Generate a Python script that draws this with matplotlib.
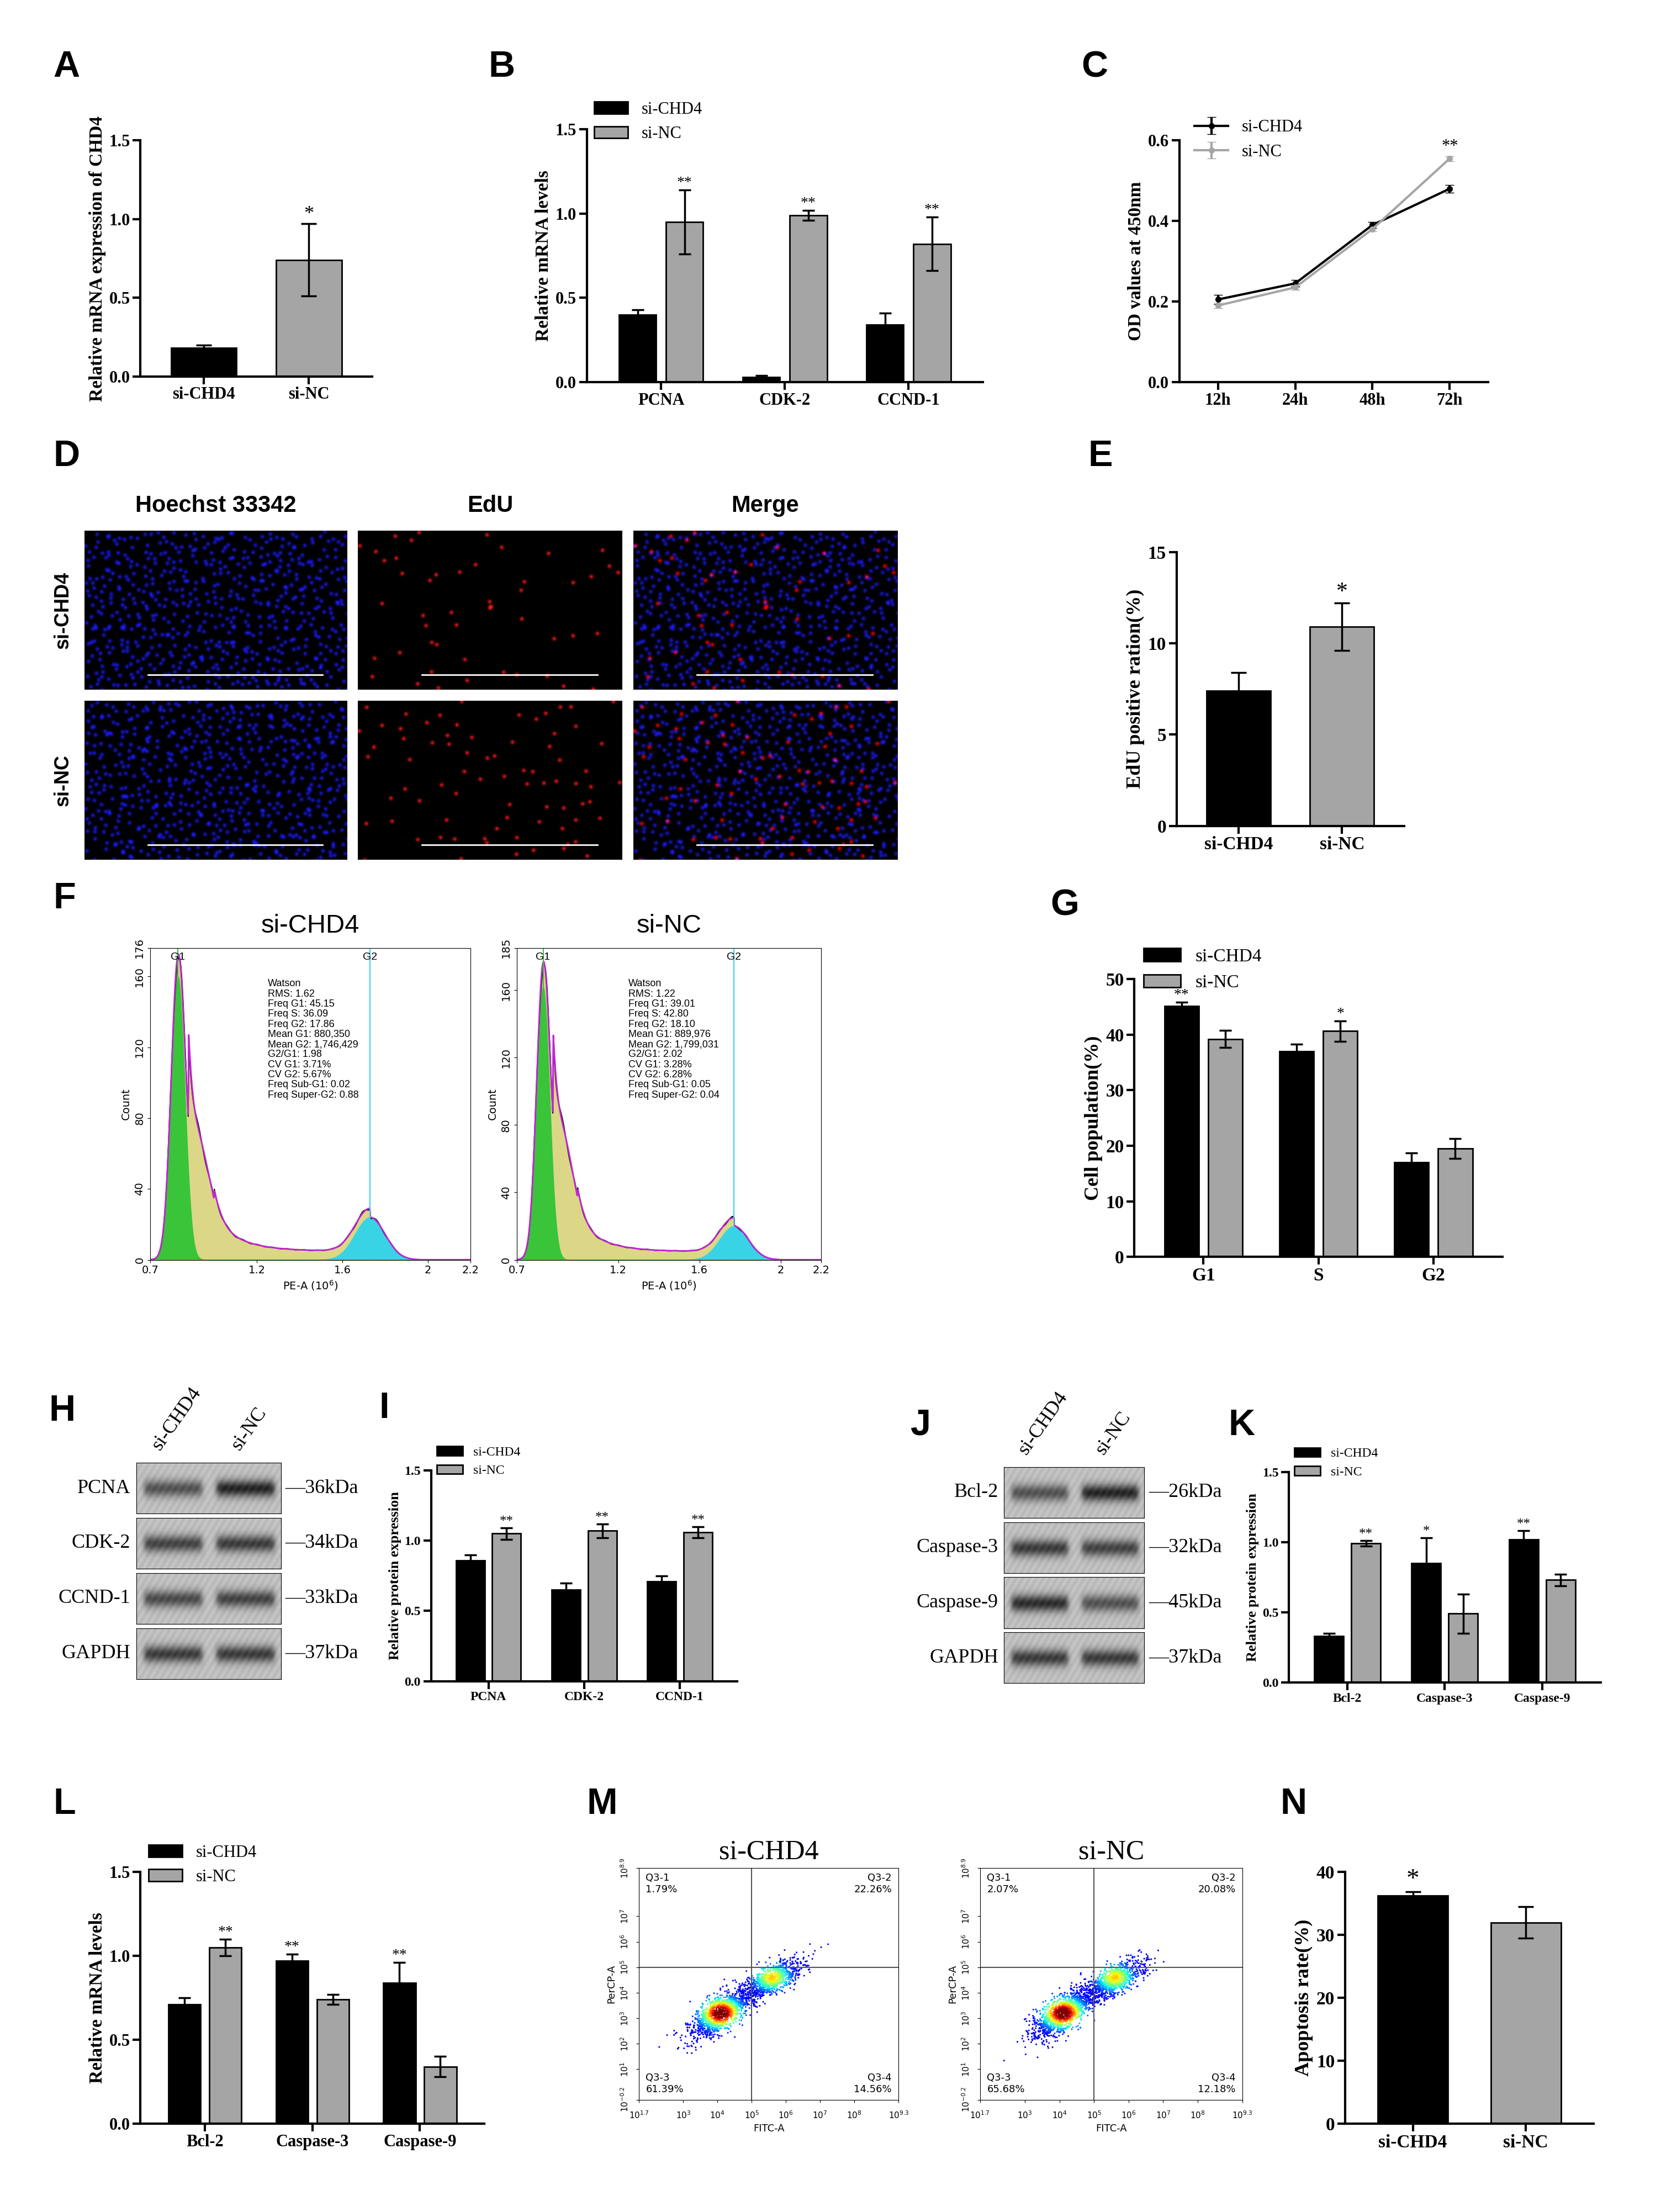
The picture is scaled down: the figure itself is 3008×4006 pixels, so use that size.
import numpy as np
import matplotlib
matplotlib.use("Agg")
import matplotlib.pyplot as plt

W, H = 1183.0, 1575.0
fig = plt.figure(figsize=(30.08, 40.06), dpi=100)
SERIF = "Liberation Serif"
SANS = "Liberation Sans"
BLACK, GRAY = "#000000", "#a5a5a5"

def axp(x0, y0, x1, y1):
    return fig.add_axes([x0 / W, 1 - y1 / H, (x1 - x0) / W, (y1 - y0) / H])

def letter(x, y, s):
    fig.text(x / W, 1 - y / H, s, fontsize=48, fontweight="bold", family=SANS, va="center", ha="left")

def style(ax, fs=22):
    for s in ["top", "right"]:
        ax.spines[s].set_visible(False)
    for s in ["left", "bottom"]:
        ax.spines[s].set_linewidth(3)
    ax.tick_params(width=3, length=10, labelsize=fs)
    for t in ax.get_xticklabels() + ax.get_yticklabels():
        t.set_family(SERIF); t.set_fontweight("bold")

def grouped(ax, cats, a, ae, b, be, sa, sb, ylim, yticks, ylabel, fs=22, legend=True, stfs=20):
    x = np.arange(len(cats))
    w = 0.3
    ax.bar(x - 0.19, a, w, yerr=ae, color=BLACK, edgecolor="black", lw=2, capsize=8,
           error_kw=dict(elinewidth=2.5, capthick=2.5), label="si-CHD4")
    ax.bar(x + 0.19, b, w, yerr=be, color=GRAY, edgecolor="black", lw=2, capsize=8,
           error_kw=dict(elinewidth=2.5, capthick=2.5), label="si-NC")
    for i in range(len(cats)):
        if sa[i]:
            ax.text(x[i] - 0.19, a[i] + ae[i], sa[i], ha="center", va="bottom", fontsize=stfs, family=SERIF)
        if sb[i]:
            ax.text(x[i] + 0.19, b[i] + be[i], sb[i], ha="center", va="bottom", fontsize=stfs, family=SERIF)
    ax.set_xticks(x); ax.set_xticklabels(cats)
    ax.set_ylim(*ylim); ax.set_yticks(yticks)
    ax.set_xlim(-0.6, len(cats) - 0.4)
    ax.set_ylabel(ylabel, fontsize=fs + 2, family=SERIF, fontweight="bold")
    if legend:
        ax.legend(loc="upper left", bbox_to_anchor=(-0.02, 1.17), frameon=False, prop={"family": SERIF, "size": fs})
    style(ax, fs)

# ---------------- data ----------------
A_cats = ["si-CHD4", "si-NC"]; A_vals = [0.18, 0.74]; A_err = [0.02, 0.23]
B_cats = ["PCNA", "CDK-2", "CCND-1"]
B_chd4 = [0.40, 0.03, 0.34]; B_chd4_err = [0.03, 0.01, 0.07]
B_nc = [0.95, 0.99, 0.82]; B_nc_err = [0.19, 0.03, 0.16]
C_times = ["12h", "24h", "48h", "72h"]
C_chd4 = [0.205, 0.245, 0.39, 0.48]; C_chd4_err = [0.012, 0.008, 0.008, 0.01]
C_nc = [0.19, 0.235, 0.38, 0.555]; C_nc_err = [0.006, 0.006, 0.006, 0.006]
E_vals = [7.4, 10.9]; E_err = [1.0, 1.3]
G_cats = ["G1", "S", "G2"]
G_chd4 = [45.1, 37.0, 17.0]; G_chd4_err = [0.7, 1.3, 1.7]
G_nc = [39.2, 40.6, 19.5]; G_nc_err = [1.5, 1.8, 1.8]
I_cats = ["PCNA", "CDK-2", "CCND-1"]
I_chd4 = [0.86, 0.65, 0.71]; I_chd4_err = [0.04, 0.05, 0.04]
I_nc = [1.05, 1.07, 1.06]; I_nc_err = [0.04, 0.05, 0.04]
K_cats = ["Bcl-2", "Caspase-3", "Caspase-9"]
K_chd4 = [0.33, 0.85, 1.02]; K_chd4_err = [0.02, 0.18, 0.06]
K_nc = [0.99, 0.49, 0.73]; K_nc_err = [0.02, 0.14, 0.04]
L_cats = ["Bcl-2", "Caspase-3", "Caspase-9"]
L_chd4 = [0.71, 0.97, 0.84]; L_chd4_err = [0.04, 0.04, 0.12]
L_nc = [1.05, 0.74, 0.34]; L_nc_err = [0.05, 0.03, 0.06]
N_vals = [36.3, 32.0]; N_err = [0.6, 2.5]
F_stats = [["Watson", "RMS: 1.62", "Freq G1: 45.15", "Freq S: 36.09", "Freq G2: 17.86", "Mean G1: 880,350",
            "Mean G2: 1,746,429", "G2/G1: 1.98", "CV G1: 3.71%", "CV G2: 5.67%", "Freq Sub-G1: 0.02", "Freq Super-G2: 0.88"],
           ["Watson", "RMS: 1.22", "Freq G1: 39.01", "Freq S: 42.80", "Freq G2: 18.10", "Mean G1: 889,976",
            "Mean G2: 1,799,031", "G2/G1: 2.02", "CV G1: 3.28%", "CV G2: 6.28%", "Freq Sub-G1: 0.05", "Freq Super-G2: 0.04"]]
M_quads = [["1.79%", "22.26%", "61.39%", "14.56%"], ["2.07%", "20.08%", "65.68%", "12.18%"]]

# ---------------- A ----------------
letter(38, 48, "A")
ax = axp(100, 100, 265, 268)
ax.bar([0, 1], A_vals, 0.62, yerr=A_err, color=[BLACK, GRAY], edgecolor="black", lw=2, capsize=10,
       error_kw=dict(elinewidth=2.5, capthick=2.5))
ax.text(1, A_vals[1] + A_err[1], "*", ha="center", va="bottom", fontsize=26, family=SERIF)
ax.set_xticks([0, 1]); ax.set_xticklabels(A_cats); ax.set_xlim(-0.6, 1.6)
ax.set_ylim(0, 1.5); ax.set_yticks([0, 0.5, 1.0, 1.5])
ax.set_ylabel("Relative mRNA expression of CHD4", fontsize=24, family=SERIF, fontweight="bold")
style(ax)

# ---------------- B ----------------
letter(348, 48, "B")
ax = axp(418, 92, 700, 272)
grouped(ax, B_cats, B_chd4, B_chd4_err, B_nc, B_nc_err, ["", "", ""], ["**", "**", "**"],
        (0, 1.5), [0, 0.5, 1.0, 1.5], "Relative mRNA levels")

# ---------------- C ----------------
letter(770, 48, "C")
ax = axp(840, 100, 1060, 272)
xs = np.arange(4)
ax.errorbar(xs, C_chd4, yerr=C_chd4_err, color="black", marker="o", ms=7, lw=3, capsize=6, label="si-CHD4")
ax.errorbar(xs, C_nc, yerr=C_nc_err, color="#a5a5a5", marker="o", ms=7, lw=3, capsize=6, label="si-NC")
ax.text(3, 0.565, "**", ha="center", va="bottom", fontsize=22, family=SERIF)
ax.set_xticks(xs); ax.set_xticklabels(C_times); ax.set_xlim(-0.5, 3.5)
ax.set_ylim(0, 0.6); ax.set_yticks([0, 0.2, 0.4, 0.6])
ax.set_ylabel("OD values at 450nm", fontsize=24, family=SERIF, fontweight="bold")
ax.legend(loc="upper left", bbox_to_anchor=(0.0, 1.15), frameon=False, prop={"family": SERIF, "size": 22})
style(ax)

# ---------------- D ----------------
letter(38, 325, "D")
cols = [(60, 247), (255, 443), (451, 639)]
rows = [(378, 491), (499, 612)]
for j, t in enumerate(["Hoechst 33342", "EdU", "Merge"]):
    fig.text((cols[j][0] + cols[j][1]) / 2 / W, 1 - 360 / H, t, ha="center", va="center",
             fontsize=30, fontweight="bold", family=SANS)
for i, t in enumerate(["si-CHD4", "si-NC"]):
    fig.text(45 / W, 1 - (rows[i][0] + rows[i][1]) / 2 / H, t, ha="center", va="center", rotation=90,
             fontsize=26, fontweight="bold", family=SANS)
gy, gx = np.mgrid[0:113, 0:188]
def dots(nx, ny, phase, keep_frac):
    img = np.zeros((113, 188))
    k = 0
    for a in range(nx):
        for b in range(ny):
            k += 1
            h = (np.sin(k * 12.9898 + phase) * 43758.5453) % 1.0
            h2 = (np.sin(k * 78.233 + phase) * 12345.678) % 1.0
            h3 = (np.sin(k * 39.425 + phase) * 9876.54) % 1.0
            if h3 > keep_frac:
                continue
            cx = (a + h) * 188 / nx; cy = (b + h2) * 113 / ny
            img += np.exp(-((gx - cx) ** 2 + (gy - cy) ** 2) / 1.6)
    return np.clip(img, 0, 1)
for i in range(2):
    blue = dots(34, 20, i * 1.7, 0.9)
    red = dots(14, 9, i * 3.1 + 0.5, 0.35 if i == 0 else 0.6)
    imgs = [np.dstack([blue * 0.1, blue * 0.1, blue * 0.95]),
            np.dstack([red, red * 0.1, red * 0.1]),
            np.dstack([np.clip(red + blue * 0.1, 0, 1), blue * 0.1, np.clip(blue * 0.9, 0, 1)])]
    for j in range(3):
        a = axp(cols[j][0], rows[i][0], cols[j][1], rows[i][1])
        a.imshow(imgs[j], aspect="auto", interpolation="bilinear")
        a.plot([45, 170], [102, 102], color="white", lw=2)
        a.axis("off")

# ---------------- E ----------------
letter(775, 325, "E")
ax = axp(838, 393, 1000, 588)
ax.bar([0, 1], E_vals, 0.62, yerr=E_err, color=[BLACK, GRAY], edgecolor="black", lw=2, capsize=10,
       error_kw=dict(elinewidth=2.5, capthick=2.5))
ax.text(1, E_vals[1] + E_err[1], "*", ha="center", va="bottom", fontsize=30, family=SERIF)
ax.set_xticks([0, 1]); ax.set_xticklabels(A_cats); ax.set_xlim(-0.6, 1.6)
ax.set_ylim(0, 15); ax.set_yticks([0, 5, 10, 15])
ax.set_ylabel("EdU positive ration(%)", fontsize=26, family=SERIF, fontweight="bold")
style(ax, 24)

# ---------------- F ----------------
letter(38, 640, "F")
xx = np.linspace(0.7, 2.2, 600)
for k, (x0, x1, title, ymax, g1h, g2c, g2h, sh) in enumerate(
        [(107, 335, "si-CHD4", 176, 160, 1.73, 24, 38), (368, 585, "si-NC", 185, 162, 1.77, 20, 45)]):
    ax = axp(x0, 675, x1, 897)
    g1 = g1h * np.exp(-(xx - 0.83) ** 2 / (2 * 0.032 ** 2))
    s = sh * np.exp(-(xx - 0.92) ** 2 / (2 * 0.06 ** 2)) + 8 * np.exp(-(xx - 1.1) / 0.12) * (xx > 0.88)
    s = s * (xx < g2c) + 5 * ((xx > 1.0) & (xx < g2c))
    g2 = g2h * np.exp(-(xx - g2c) ** 2 / (2 * 0.07 ** 2))
    tot = g1 + s + g2
    ax.fill_between(xx, 0, tot, color="#d9d27a", alpha=0.9)
    ax.fill_between(xx, 0, g2, color="#39d3e6")
    ax.fill_between(xx, 0, g1, color="#39c43a")
    ax.plot(xx, tot * (1 + 0.03 * np.sin(xx * 90)), color="black", lw=1.5)
    ax.plot(xx, tot, color="#c026d3", lw=2)
    ax.axvline(0.83, color="#39c43a", lw=1.5); ax.axvline(g2c, color="#39d3e6", lw=1.5)
    ax.text(0.83, ymax * 0.985, "G1", ha="center", va="top", fontsize=14, family=SANS)
    ax.text(g2c, ymax * 0.985, "G2", ha="center", va="top", fontsize=14, family=SANS)
    ax.text(1.25, ymax * 0.9, "\n".join(F_stats[k]), ha="left", va="top", fontsize=13, family=SANS, linespacing=1.1)
    ax.set_xlim(0.7, 2.2); ax.set_ylim(0, ymax)
    ax.set_xticks([0.7, 1.2, 1.6, 2, 2.2]); ax.set_xticklabels(["0.7", "1.2", "1.6", "2", "2.2"])
    ax.set_yticks([0, 40, 80, 120, 160, ymax]); ax.set_yticklabels(["0", "40", "80", "120", "160", str(ymax)], rotation=90, va="center")
    ax.tick_params(labelsize=14)
    ax.set_xlabel("PE-A (10$^6$)", fontsize=14)
    ax.set_ylabel("Count", fontsize=14)
    ax.set_title(title, fontsize=34, family=SANS, pad=20)

# ---------------- G ----------------
letter(748, 645, "G")
ax = axp(808, 697, 1070, 895)
grouped(ax, G_cats, G_chd4, G_chd4_err, G_nc, G_nc_err, ["**", "", ""], ["", "*", ""],
        (0, 50), [0, 10, 20, 30, 40, 50], "Cell population(%)", fs=24)

# ---------------- blots ----------------
def blot(x0, y0, x1, y1, labels, kdas, intens, lx, kx):
    n = len(labels)
    hgt = (y1 - y0) / n
    for r in range(n):
        a = axp(x0, y0 + r * hgt + 1.5, x1, y0 + (r + 1) * hgt - 1.5)
        yy, xg = np.mgrid[0:40, 0:100]
        band = np.zeros((40, 100))
        for c, cx in enumerate([25, 75]):
            band += intens[r][c] * np.exp(-((yy - 20) / 6.5) ** 2) * (1 / (1 + np.exp(-(xg - (cx - 20))))) * (1 / (1 + np.exp((xg - (cx + 20)))))
        img = 0.75 - 0.6 * np.clip(band, 0, 1) + 0.03 * np.sin(xg * 1.3 + yy * 0.7)
        a.imshow(img, cmap="gray", vmin=0, vmax=1, aspect="auto")
        a.set_xticks([]); a.set_yticks([])
        yc = 1 - (y0 + (r + 0.5) * hgt) / H
        fig.text(lx / W, yc, labels[r], ha="right", va="center", fontsize=26, family=SERIF)
        fig.text(kx / W, yc, "—" + kdas[r], ha="left", va="center", fontsize=26, family=SERIF)
    for c, t in enumerate(["si-CHD4", "si-NC"]):
        fig.text((x0 + (x1 - x0) * (0.28 + 0.5 * c)) / W, 1 - (y0 - 5) / H, t, rotation=55, ha="center",
                 va="bottom", fontsize=26, family=SERIF)

letter(35, 1005, "H")
blot(97, 1040, 200, 1197, ["PCNA", "CDK-2", "CCND-1", "GAPDH"], ["36kDa", "34kDa", "33kDa", "37kDa"],
     [[0.7, 1.0], [0.8, 0.85], [0.75, 0.8], [0.85, 0.85]], 93, 203)
letter(648, 1015, "J")
blot(715, 1043, 815, 1200, ["Bcl-2", "Caspase-3", "Caspase-9", "GAPDH"], ["26kDa", "32kDa", "45kDa", "37kDa"],
     [[0.7, 1.0], [0.85, 0.8], [0.95, 0.7], [0.85, 0.85]], 711, 818)

# ---------------- I ----------------
letter(270, 1003, "I")
ax = axp(307, 1047, 525, 1197)
grouped(ax, I_cats, I_chd4, I_chd4_err, I_nc, I_nc_err, ["", "", ""], ["**", "**", "**"],
        (0, 1.5), [0, 0.5, 1.0, 1.5], "Relative protein expression", fs=17, stfs=18)

# ---------------- K ----------------
letter(875, 1015, "K")
ax = axp(918, 1048, 1140, 1198)
grouped(ax, K_cats, K_chd4, K_chd4_err, K_nc, K_nc_err, ["", "*", "**"], ["**", "", ""],
        (0, 1.5), [0, 0.5, 1.0, 1.5], "Relative protein expression", fs=17, stfs=18)

# ---------------- L ----------------
letter(38, 1285, "L")
ax = axp(100, 1333, 345, 1512)
grouped(ax, L_cats, L_chd4, L_chd4_err, L_nc, L_nc_err, ["", "**", "**"], ["**", "", ""],
        (0, 1.5), [0, 0.5, 1.0, 1.5], "Relative mRNA levels", fs=22)

# ---------------- M ----------------
letter(418, 1285, "M")
idx = np.arange(1, 2201)
for k, (x0, x1, title) in enumerate([(455, 640, "si-CHD4"), (698, 885, "si-NC")]):
    ax = axp(x0, 1330, x1, 1495)
    u1 = (np.sin(idx * 12.9898 + k) * 43758.5453) % 1.0
    u2 = (np.sin(idx * 78.233 + k) * 12345.678) % 1.0
    u3 = (np.sin(idx * 39.425 + k) * 9876.54) % 1.0
    r = np.sqrt(-2 * np.log(u1 + 1e-9))
    n1 = r * np.cos(2 * np.pi * u2); n2 = r * np.sin(2 * np.pi * u2)
    cl = u3 < 0.6
    xs_ = np.where(cl, 4.1 + 0.45 * n1, 5.6 + 0.45 * n1)
    ys_ = np.where(cl, 3.2 + 0.35 * n1 + 0.35 * n2, 4.5 + 0.3 * n1 + 0.3 * n2)
    dens = np.exp(-((xs_ - 4.1) ** 2 + (ys_ - 3.2) ** 2) / 0.25) + 0.6 * np.exp(-((xs_ - 5.6) ** 2 + (ys_ - 4.6) ** 2) / 0.2)
    o = np.argsort(dens)
    ax.scatter(xs_[o], ys_[o], c=dens[o], cmap="jet", s=5, vmin=-0.1, vmax=0.9, lw=0)
    ax.axvline(5.0, color="#555555", lw=1.5); ax.axhline(5.0, color="#555555", lw=1.5)
    ax.set_xlim(1.7, 9.3); ax.set_ylim(-0.2, 8.9)
    ax.set_xticks([1.7, 3, 4, 5, 6, 7, 8, 9.3])
    ax.set_xticklabels(["10$^{1.7}$", "10$^3$", "10$^4$", "10$^5$", "10$^6$", "10$^7$", "10$^8$", "10$^{9.3}$"])
    ax.set_yticks([-0.2, 1, 2, 3, 4, 5, 6, 7, 8.9])
    ax.set_yticklabels(["10$^{-0.2}$", "10$^1$", "10$^2$", "10$^3$", "10$^4$", "10$^5$", "10$^6$", "10$^7$", "10$^{8.9}$"], rotation=90, va="center")
    ax.tick_params(labelsize=11)
    ax.tick_params(axis="x", pad=10)
    ax.tick_params(axis="y", pad=8)
    ax.set_xlabel("FITC-A", fontsize=13); ax.set_ylabel("PerCP-A", fontsize=13)
    q = M_quads[k]
    ax.text(1.9, 8.7, "Q3-1\n" + q[0], fontsize=13, va="top")
    ax.text(9.1, 8.7, "Q3-2\n" + q[1], fontsize=13, va="top", ha="right")
    ax.text(1.9, 0.0, "Q3-3\n" + q[2], fontsize=13, va="bottom")
    ax.text(9.1, 0.0, "Q3-4\n" + q[3], fontsize=13, va="bottom", ha="right")
    ax.set_title(title, fontsize=36, family=SERIF, pad=12)

# ---------------- N ----------------
letter(912, 1285, "N")
ax = axp(958, 1333, 1135, 1512)
ax.bar([0, 1], N_vals, 0.62, yerr=N_err, color=[BLACK, GRAY], edgecolor="black", lw=2, capsize=10,
       error_kw=dict(elinewidth=2.5, capthick=2.5))
ax.text(0, N_vals[0] + N_err[0], "*", ha="center", va="bottom", fontsize=34, family=SERIF)
ax.set_xticks([0, 1]); ax.set_xticklabels(A_cats); ax.set_xlim(-0.6, 1.6)
ax.set_ylim(0, 40); ax.set_yticks([0, 10, 20, 30, 40])
ax.set_ylabel("Apoptosis rate(%)", fontsize=26, family=SERIF, fontweight="bold")
style(ax, 24)

fig.savefig("out.png", dpi=100, facecolor="white")
